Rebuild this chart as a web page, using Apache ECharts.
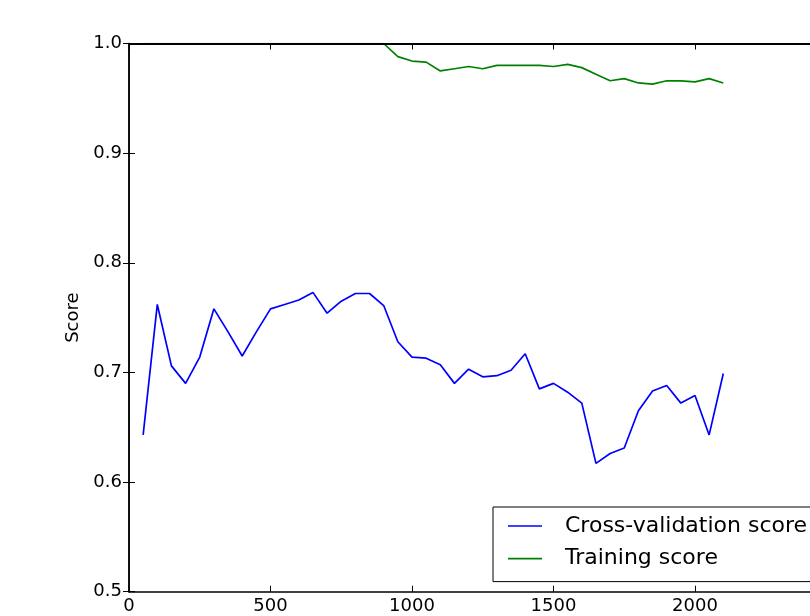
<!DOCTYPE html>
<html>
<head>
<meta charset="utf-8">
<script src="https://cdn.jsdelivr.net/npm/echarts@6/dist/echarts.min.js"></script>
<style>html,body{margin:0;padding:0;background:#fff;}#c{width:810px;height:616px;}</style>
</head>
<body>
<div id="c"></div>
<script>
const trainSizes = [50,100,150,200,250,300,350,400,450,500,550,600,650,700,750,800,850,900,950,1000,1050,1100,1150,1200,1250,1300,1350,1400,1450,1500,1550,1600,1650,1700,1750,1800,1850,1900,1950,2000,2050,2100];
const cvScores = [0.643,0.762,0.706,0.690,0.714,0.758,0.737,0.715,0.737,0.758,0.762,0.766,0.773,0.754,0.765,0.772,0.772,0.761,0.728,0.714,0.713,0.707,0.690,0.703,0.696,0.697,0.702,0.717,0.685,0.690,0.682,0.672,0.617,0.626,0.631,0.665,0.683,0.688,0.672,0.679,0.643,0.699];
const trainScores = [1.0,1.0,1.0,1.0,1.0,1.0,1.0,1.0,1.0,1.0,1.0,1.0,1.0,1.0,1.0,1.0,1.0,1.0,0.988,0.984,0.983,0.975,0.977,0.979,0.977,0.980,0.980,0.980,0.980,0.979,0.981,0.978,0.972,0.966,0.968,0.964,0.963,0.966,0.966,0.965,0.968,0.964];
const xTicks = [0,500,1000,1500,2000,2500];
const yTicks = [0.5,0.6,0.7,0.8,0.9,1.0];
const seriesNames = ['Cross-validation score','Training score'];

const FONT = 'DejaVu Sans';
const chart = echarts.init(document.getElementById('c'), null, {renderer:'canvas'});
const axisLine = {show:true, lineStyle:{color:'#000', width:1.5}};
const topLine = {show:true, lineStyle:{color:'#000', width:2.2}};
const tickIn = {show:true, inside:true, length:6, lineStyle:{color:'#000', width:1}};
const lineIcon = 'path://M0,0H34V1.7H0Z';
chart.setOption({
  backgroundColor:'#fff',
  animation:false,
  grid:{left:129, top:43.5, bottom:24.3, right:-26.5, outerBoundsMode:'none', containLabel:false},
  xAxis:[
    {type:'value', position:'bottom', min:xTicks[0], max:xTicks[xTicks.length-1], interval:500,
     axisLine:axisLine, axisTick:tickIn, splitLine:{show:false}, z:10,
     axisLabel:{color:'#000', fontFamily:FONT, fontSize:18, margin:6, formatter:v=>String(v)}},
    {type:'value', position:'top', min:xTicks[0], max:xTicks[xTicks.length-1], interval:500,
     axisLine:topLine, axisTick:tickIn, splitLine:{show:false}, axisLabel:{show:false}, z:10}
  ],
  yAxis:[
    {type:'value', position:'left', min:yTicks[0], max:yTicks[yTicks.length-1], interval:0.1,
     axisLine:axisLine, axisTick:tickIn, splitLine:{show:false}, z:10,
     axisLabel:{color:'#000', fontFamily:FONT, fontSize:18, margin:7, formatter:v=>v.toFixed(1)},
     name:'Score', nameLocation:'middle', nameGap:45,
     nameTextStyle:{color:'#000', fontFamily:FONT, fontSize:18}},
    {type:'value', position:'right', min:yTicks[0], max:yTicks[yTicks.length-1], interval:0.1,
     axisLine:axisLine, axisTick:tickIn, splitLine:{show:false}, axisLabel:{show:false}, z:10}
  ],
  legend:{
    orient:'vertical', left:493, top:507,
    backgroundColor:'#fff', borderColor:'#000', borderWidth:1, borderRadius:0,
    padding:[6,40,10,15], itemWidth:34, itemHeight:14, itemGap:6.6,
    icon:lineIcon,
    textStyle:{color:'#000', fontFamily:FONT, fontSize:22, lineHeight:26, padding:[0,0,0,18]},
    data:seriesNames
  },
  series:[
    {name:seriesNames[0], type:'line', symbol:'none', showSymbol:false, z:1,
     lineStyle:{color:'#0000ff', width:1.7}, itemStyle:{color:'#0000ff'},
     data:trainSizes.map((x,i)=>[x,cvScores[i]])},
    {name:seriesNames[1], type:'line', symbol:'none', showSymbol:false, z:1,
     lineStyle:{color:'#008000', width:1.7}, itemStyle:{color:'#008000'},
     data:trainSizes.map((x,i)=>[x,trainScores[i]])}
  ]
});
</script>
</body>
</html>
